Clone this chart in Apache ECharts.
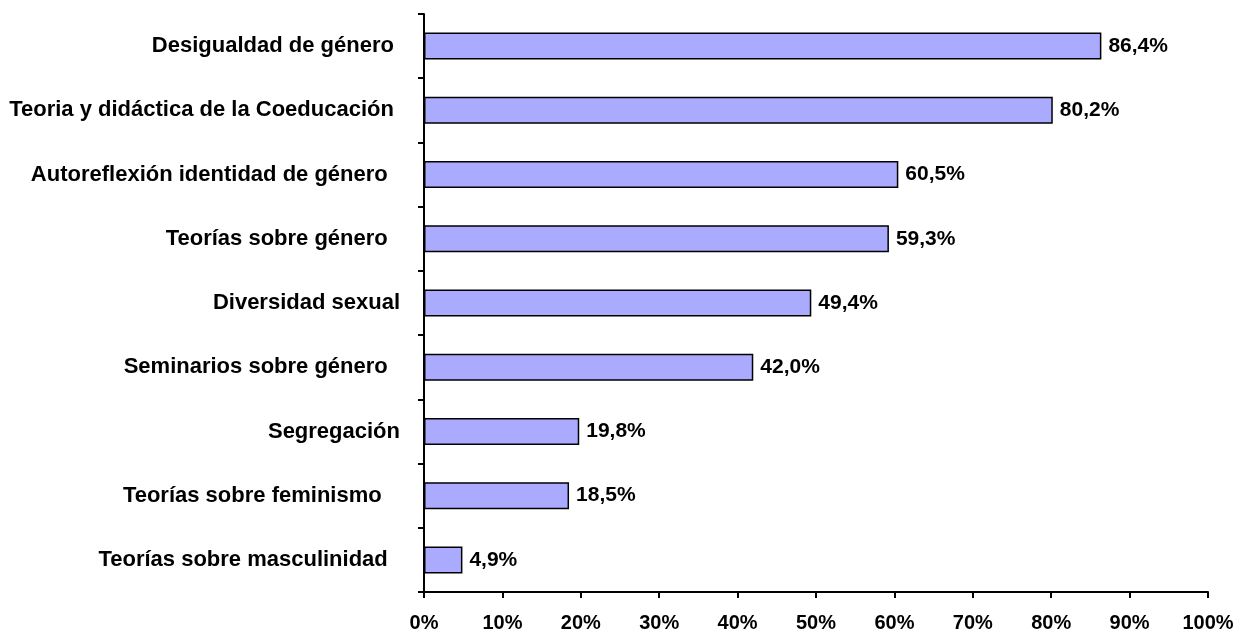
<!DOCTYPE html>
<html>
<head>
<meta charset="utf-8">
<script src="https://cdn.jsdelivr.net/npm/echarts@6/dist/echarts.min.js"></script>
<style>
html,body{margin:0;padding:0;background:#fff;}
#chart{width:1237px;height:633px;}
</style>
</head>
<body>
<div id="chart"></div>
<script>
var categories = [
  "Desigualdad de género ",
  "Teoria y didáctica de la Coeducación ",
  "Autoreflexión identidad de género  ",
  "Teorías sobre género  ",
  "Diversidad sexual",
  "Seminarios sobre género  ",
  "Segregación",
  "Teorías sobre feminismo   ",
  "Teorías sobre masculinidad  "
];
var values = [86.4, 80.2, 60.5, 59.3, 49.4, 42.0, 19.8, 18.5, 4.9];
var xTicks = [0, 10, 20, 30, 40, 50, 60, 70, 80, 90, 100];

var font = '"Liberation Sans", Arial, sans-serif';
var chart = echarts.init(document.getElementById('chart'));
chart.setOption({
  animation: false,
  backgroundColor: '#ffffff',
  grid: {left: 424, right: 29, top: 14, bottom: 39, containLabel: false},
  xAxis: {
    type: 'value', min: xTicks[0], max: xTicks[xTicks.length - 1], interval: 10,
    axisLine: {show: true, lineStyle: {color: '#000', width: 2}},
    axisTick: {show: true, length: 6, lineStyle: {color: '#000', width: 2}},
    splitLine: {show: false},
    axisLabel: {
      margin: 21, color: '#000', fontSize: 20, fontWeight: 'bold', fontFamily: font,
      formatter: function (v) { return v + '%'; }
    }
  },
  yAxis: {
    type: 'category', data: categories, inverse: true,
    axisLine: {show: true, lineStyle: {color: '#000', width: 2}},
    axisTick: {show: true, length: 6, alignWithLabel: false, lineStyle: {color: '#000', width: 2}},
    axisLabel: {margin: 24, color: '#000', fontSize: 22, fontWeight: 'bold', fontFamily: font}
  },
  series: [{
    type: 'bar', data: values, barWidth: 27,
    itemStyle: {color: '#aaaaff', borderColor: '#000', borderWidth: 1.5},
    label: {
      show: true, position: 'right', distance: 7, color: '#000',
      fontSize: 21, fontWeight: 'bold', fontFamily: font,
      formatter: function (p) { return p.value.toFixed(1).replace('.', ',') + '%'; }
    }
  }]
});
</script>
</body>
</html>
